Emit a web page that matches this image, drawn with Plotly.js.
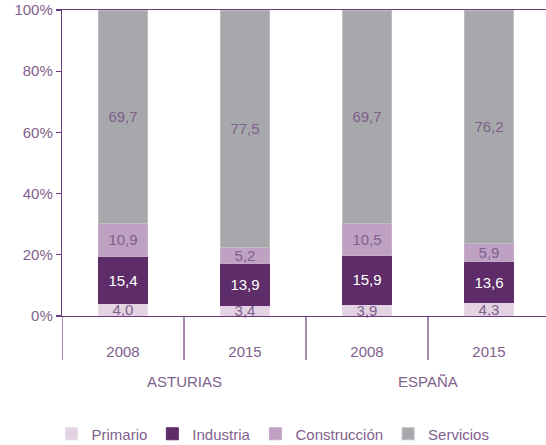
<!DOCTYPE html>
<html>
<head>
<meta charset="utf-8">
<script src="https://cdn.plot.ly/plotly-3.0.1.min.js"></script>
<style>html,body{margin:0;padding:0;background:#fff;}#chart{width:546px;height:445px;}</style>
</head>
<body>
<div id="chart"></div>
<script>
const groups = ['ASTURIAS', 'ASTURIAS', 'ESPAÑA', 'ESPAÑA'];
const years = ['2008', '2015', '2008', '2015'];
const primario = [4.0, 3.4, 3.9, 4.3];
const industria = [15.4, 13.9, 15.9, 13.6];
const construccion = [10.9, 5.2, 10.5, 5.9];
const servicios = [69.7, 77.5, 69.7, 76.2];
const seriesNames = ['Primario', 'Industria', 'Construcción', 'Servicios'];
const yTicks = [0, 20, 40, 60, 80, 100];

const purple = '#6d3a7d';
const txt = '#7f5f8c';
const fontFam = '"Liberation Sans", Arial, sans-serif';
const FS = 15;
const xs = years.map((y, i) => i);
const fmt = v => v.toFixed(1).replace('.', ',');

function mk(name, vals, color, tcolor, lineColor) {
  return {
    type: 'bar', name: name, x: xs, y: vals,
    text: vals.map(fmt), textposition: 'inside', insidetextanchor: 'middle',
    constraintext: 'none', cliponaxis: false,
    textfont: {color: tcolor, size: FS, family: fontFam},
    marker: {color: color, line: {color: lineColor, width: 1}},
    hoverinfo: 'skip'
  };
}

const data = [
  mk(seriesNames[0], primario, '#e2d2e2', txt, '#e8dbe8'),
  mk(seriesNames[1], industria, '#5e2d69', '#ffffff', '#5e2d69'),
  mk(seriesNames[2], construccion, '#bfa2c3', txt, '#c6abc9'),
  mk(seriesNames[3], servicios, '#a7a8ab', txt, '#bdbec0')
];

const H = 306;
const shapes = [-0.5, 0.5, 1.5, 2.5, 3.5].map(v => ({
  type: 'line', xref: 'x', yref: 'paper', x0: v, x1: v, y0: 0, y1: -44 / H,
  line: {color: purple, width: 1.2}, layer: 'above'
}));

const uniqGroups = [...new Set(groups)];
const annotations = uniqGroups.map(g => {
  const idx = groups.map((v, i) => v === g ? i : -1).filter(i => i >= 0);
  const c = idx.reduce((a, b) => a + b, 0) / idx.length;
  return {
    text: g, x: c, xref: 'x', y: -(381 - 316) / H, yref: 'paper',
    xanchor: 'center', yanchor: 'middle', showarrow: false,
    font: {size: FS, color: txt, family: fontFam}
  };
});

const layout = {
  width: 546, height: 445,
  margin: {l: 62, r: 0, t: 10, b: 129},
  paper_bgcolor: '#fff', plot_bgcolor: '#fff',
  barmode: 'stack', bargap: 0.6,
  font: {family: fontFam, color: txt, size: FS},
  showlegend: true,
  legend: {orientation: 'h', x: 0.5, xanchor: 'center', xref: 'container',
    y: (445 - 434) / 445, yanchor: 'middle', yref: 'container',
    traceorder: 'normal', font: {size: FS, color: txt, family: fontFam}, itemwidth: 30},
  xaxis: {
    range: [-0.5, 3.467], tickmode: 'array', tickvals: xs, ticktext: years,
    showline: true, mirror: true, linecolor: purple, linewidth: 1.2,
    ticks: '', showgrid: false, zeroline: false, fixedrange: true,
    ticklabelstandoff: 22,
    tickfont: {size: FS, color: txt, family: fontFam}
  },
  yaxis: {
    range: [0, 100], tickmode: 'array', tickvals: yTicks, ticktext: yTicks.map(v => v + '%'),
    showline: true, linecolor: purple, linewidth: 1.2,
    ticks: 'outside', ticklen: 5, tickcolor: purple, tickwidth: 1.2,
    showgrid: false, zeroline: false, fixedrange: true,
    tickfont: {size: FS, color: txt, family: fontFam}
  },
  shapes: shapes,
  annotations: annotations
};

Plotly.newPlot('chart', data, layout, {displayModeBar: false, staticPlot: true});
</script>
</body>
</html>
